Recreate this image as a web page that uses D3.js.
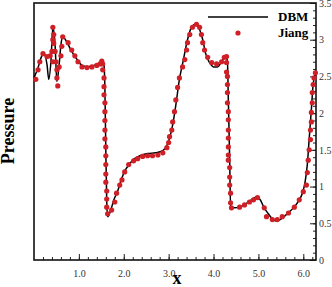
<!DOCTYPE html>
<html>
<head>
<meta charset="utf-8">
<script src="https://cdn.jsdelivr.net/npm/d3@7"></script>
<style>
  body { margin: 0; background: #fff; }
  text { font-family: "Liberation Serif", "Times New Roman", serif; }
</style>
</head>
<body>
<div id="chart"></div>
<script>
// DBM solution (line)
var dbmX = [0.00, 0.09, 0.16, 0.22, 0.29, 0.33, 0.38, 0.42, 0.47, 0.51, 0.56, 0.60, 0.64, 0.73, 0.84, 0.96,
  1.07, 1.20, 1.33, 1.47, 1.53, 1.56, 1.58, 1.60, 1.62, 1.64, 1.71, 1.78, 1.87, 1.96, 2.04, 2.13, 2.24,
  2.36, 2.53, 2.71, 2.87, 2.96, 3.02, 3.09, 3.16, 3.24, 3.33, 3.42, 3.51, 3.60, 3.69, 3.76, 3.82, 3.91,
  4.00, 4.09, 4.18, 4.27, 4.31, 4.33, 4.36, 4.38, 4.47, 4.58, 4.71, 4.84, 4.98, 5.04, 5.13, 5.22, 5.31,
  5.40, 5.51, 5.64, 5.78, 5.89, 5.98, 6.04, 6.09, 6.13, 6.18, 6.22, 6.28];
var dbmY = [2.48, 2.62, 2.76, 2.82, 2.66, 2.46, 2.73, 3.17, 2.93, 2.43, 2.66, 2.93, 3.04, 2.97, 2.84, 2.73,
  2.65, 2.63, 2.65, 2.67, 2.70, 2.65, 2.32, 1.50, 0.82, 0.59, 0.68, 0.82, 0.95, 1.12, 1.23, 1.31, 1.38,
  1.42, 1.45, 1.46, 1.49, 1.56, 1.66, 1.84, 2.11, 2.46, 2.73, 3.00, 3.17, 3.21, 3.14, 3.00, 2.82, 2.69,
  2.63, 2.63, 2.70, 2.78, 2.70, 2.18, 1.36, 0.72, 0.71, 0.72, 0.76, 0.82, 0.86, 0.82, 0.71, 0.63, 0.56,
  0.53, 0.56, 0.63, 0.71, 0.80, 0.91, 1.06, 1.30, 1.64, 2.05, 2.39, 2.55];

// Jiang reference (symbols)
var jiangX = [0.04, 0.09, 0.13, 0.20, 0.29, 0.36, 0.40, 0.42, 0.42, 0.44, 0.44, 0.47, 0.42, 0.49, 0.51, 0.51,
  0.53, 0.56, 0.60, 0.62, 0.64,
  0.76, 0.84, 0.91, 0.98, 1.07, 1.18, 1.29, 1.40, 1.47, 1.51, 1.53,
  1.53, 1.56, 1.56, 1.56, 1.58, 1.58, 1.58, 1.58, 1.58, 1.60, 1.60, 1.60, 1.60, 1.60, 1.62, 1.62, 1.62, 1.64,
  1.73, 1.80, 1.84, 1.91, 1.96, 2.02, 2.11, 2.22, 2.31, 2.42, 2.53, 2.64, 2.76, 2.87, 2.96, 3.00, 3.02,
  3.07, 3.09, 3.13, 3.16,
  3.20, 3.24, 3.31, 3.36, 3.40, 3.42, 3.47, 3.53, 3.62, 3.69, 3.73, 3.76, 3.80, 3.87, 3.96, 4.07, 4.18,
  4.24, 4.29,
  4.29, 4.29, 4.31, 4.31, 4.31, 4.31, 4.33, 4.33, 4.33, 4.33, 4.33, 4.33, 4.33, 4.36, 4.36, 4.36, 4.38, 4.38,
  4.40, 4.58, 4.69, 4.80, 4.89, 4.98,
  5.13, 5.18, 5.31, 5.42, 5.53, 5.67, 5.80, 5.91, 6.00, 6.07, 6.09, 6.11, 6.13, 6.16, 6.16, 6.18, 6.18,
  6.20, 6.20, 6.22, 6.24, 6.27];
var jiangY = [2.46, 2.59, 2.70, 2.81, 2.77, 2.78, 2.84, 3.00, 3.17, 3.07, 2.95, 2.84, 2.70, 2.70, 2.59, 2.48,
  2.37, 2.63, 2.78, 2.91, 3.04,
  2.96, 2.86, 2.78, 2.70, 2.63, 2.62, 2.63, 2.65, 2.67, 2.71, 2.67,
  2.59, 2.48, 2.36, 2.25, 2.14, 2.02, 1.90, 1.77, 1.65, 1.54, 1.42, 1.30, 1.17, 1.06, 0.94, 0.83, 0.72, 0.63,
  0.68, 0.79, 0.91, 1.02, 1.09, 1.20, 1.30, 1.35, 1.38, 1.41, 1.42, 1.42, 1.43, 1.46, 1.53, 1.60, 1.68,
  1.77, 1.88, 2.02, 2.18,
  2.35, 2.48, 2.63, 2.73, 2.86, 2.96, 3.07, 3.17, 3.21, 3.17, 3.07, 2.96, 2.86, 2.76, 2.69, 2.67, 2.70,
  2.76, 2.77,
  2.69, 2.56, 2.50, 2.39, 2.28, 2.14, 2.02, 1.91, 1.77, 1.66, 1.54, 1.43, 1.36, 1.26, 1.13, 1.02, 0.91, 0.78,
  0.71, 0.72, 0.75, 0.79, 0.82, 0.85,
  0.71, 0.59, 0.55, 0.55, 0.59, 0.64, 0.72, 0.82, 0.93, 1.02, 1.19, 1.36, 1.50, 1.64, 1.77, 1.88, 2.01,
  2.14, 2.28, 2.39, 2.48, 2.55];

var xTicks = [1, 2, 3, 4, 5, 6];
var yTicks = [0, 0.5, 1, 1.5, 2, 2.5, 3, 3.5];

var margin = { top: 3, right: 16, bottom: 27, left: 34 };
var width = 332 - margin.left - margin.right;
var height = 287 - margin.top - margin.bottom;

var x = d3.scaleLinear().domain([0, 2 * Math.PI]).range([0, width]);
var y = d3.scaleLinear().domain([0, 3.5]).range([height, 0]);

var svg = d3.select('#chart').append('svg')
  .attr('width', 332)
  .attr('height', 287)
  .append('g')
  .attr('transform', 'translate(' + margin.left + ',' + margin.top + ')');

// bottom axis, ticks pointing inward
var xAxis = svg.append('g')
  .attr('transform', 'translate(0,' + height + ')')
  .call(d3.axisBottom(x).tickValues(d3.range(0.2, 6.21, 0.2)).tickSize(-3).tickFormat(''));
xAxis.select('.domain').remove();
var xMajor = svg.append('g')
  .attr('transform', 'translate(0,' + height + ')')
  .call(d3.axisBottom(x).tickValues(xTicks).tickSize(-6).tickPadding(10));
xMajor.select('.domain').remove();
xMajor.selectAll('text').attr('font-size', 10).attr('fill', '#333');

// right axis, ticks pointing inward
var yAxis = svg.append('g')
  .attr('transform', 'translate(' + width + ',0)')
  .call(d3.axisRight(y).tickValues(d3.range(0.1, 3.45, 0.1)).tickSize(-3).tickFormat(''));
yAxis.select('.domain').remove();
var yMajor = svg.append('g')
  .attr('transform', 'translate(' + width + ',0)')
  .call(d3.axisRight(y).tickValues(yTicks).tickSize(-6).tickPadding(3).tickFormat(d3.format('')));
yMajor.select('.domain').remove();
yMajor.selectAll('text').attr('font-size', 10).attr('fill', '#333');
svg.selectAll('.tick line').attr('stroke', '#222');

// frame
svg.append('rect')
  .attr('width', width)
  .attr('height', height)
  .attr('fill', 'none')
  .attr('stroke', '#111')
  .attr('stroke-width', 1.6);

var line = d3.line()
  .curve(d3.curveMonotoneX)
  .x(function (d, i) { return x(dbmX[i]); })
  .y(function (d, i) { return y(dbmY[i]); });

svg.append('path')
  .datum(dbmY)
  .attr('fill', 'none')
  .attr('stroke', '#000')
  .attr('stroke-width', 1.5)
  .attr('d', line);

svg.selectAll('.pt')
  .data(jiangY)
  .enter().append('circle')
  .attr('class', 'pt')
  .attr('cx', function (d, i) { return x(jiangX[i]); })
  .attr('cy', function (d) { return y(d); })
  .attr('r', 2.6)
  .attr('fill', '#cf2027');

// legend
svg.append('line')
  .attr('x1', 174).attr('x2', 234)
  .attr('y1', 14).attr('y2', 14)
  .attr('stroke', '#000').attr('stroke-width', 1.5);
svg.append('text')
  .attr('x', 244).attr('y', 18)
  .attr('font-size', 13).attr('font-weight', 'bold')
  .text('DBM');
svg.append('circle')
  .attr('cx', 204).attr('cy', 30).attr('r', 2.6)
  .attr('fill', '#cf2027');
svg.append('text')
  .attr('x', 244).attr('y', 34)
  .attr('font-size', 13).attr('font-weight', 'bold')
  .text('Jiang');

// axis titles
svg.append('text')
  .attr('x', width / 2 + 2)
  .attr('y', height + 24)
  .style('text-anchor', 'middle')
  .attr('font-size', 18).attr('font-weight', 'bold')
  .text('x');

svg.append('text')
  .attr('transform', 'rotate(-90)')
  .attr('x', -128)
  .attr('y', -20)
  .style('text-anchor', 'middle')
  .attr('font-size', 18).attr('font-weight', 'bold')
  .text('Pressure');
</script>
</body>
</html>
